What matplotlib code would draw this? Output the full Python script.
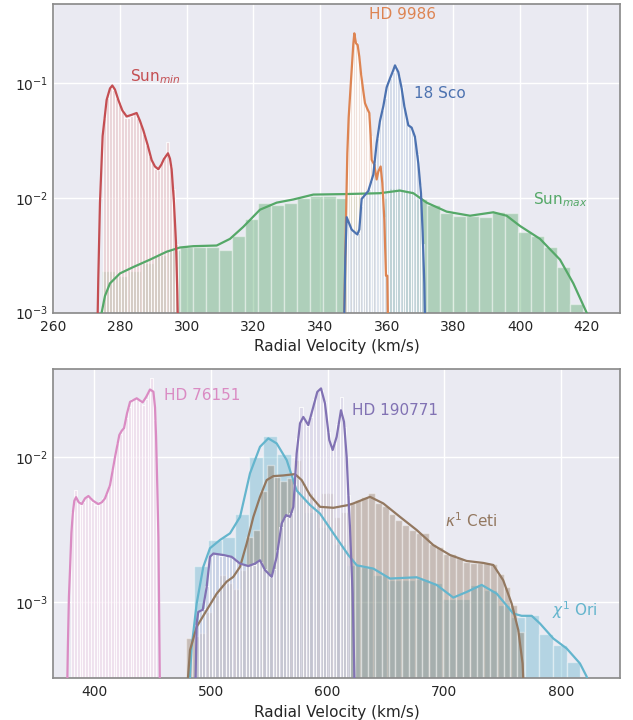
import numpy as np
import matplotlib
matplotlib.use("Agg")
import matplotlib.pyplot as plt
from matplotlib.colors import to_rgb

# seaborn "deep" palette
C_BLUE, C_ORANGE, C_GREEN, C_RED = "#4C72B0", "#DD8452", "#55A868", "#C44E52"
C_PURPLE, C_BROWN, C_PINK, C_CYAN = "#8172B3", "#937860", "#DA8BC3", "#64B5CD"

# ---------------- top panel ----------------
# Sun_max : histogram + kde
sun_max_start, sun_max_width = 274.5, 3.905
sun_max_hist = [0.0023, 0.0021, 0.0023, 0.0027, 0.0032, 0.0035, 0.0037, 0.0037, 0.0037, 0.0035,
                0.0047, 0.0065, 0.0091, 0.0087, 0.0091, 0.0100, 0.0105, 0.0105, 0.0100, 0.0105,
                0.0102, 0.0100, 0.0122, 0.0118, 0.0098, 0.0087, 0.0074, 0.0070, 0.0070, 0.0068,
                0.0075, 0.0074, 0.0051, 0.0047, 0.0037, 0.0025, 0.0012]
sun_max_kde_x = [272.5, 273.5, 274.5, 275.5, 277.0, 280.0, 284.0, 289.0, 294.0, 298.0, 302.0, 309.0,
                 313.0, 317.0, 322.0, 327.0, 332.0, 338.0, 347.0, 358.0, 364.0, 368.0, 372.0, 378.0,
                 385.0, 392.0, 396.0, 400.0, 406.0, 412.0, 416.0, 420.0, 422.0]
sun_max_kde_y = [0.0006, 0.00085, 0.0010, 0.0014, 0.0018, 0.0022, 0.0025, 0.0029, 0.0034, 0.0037,
                 0.0038, 0.00385, 0.0044, 0.0056, 0.0079, 0.0091, 0.0097, 0.0107, 0.0108, 0.0110,
                 0.0116, 0.0110, 0.0091, 0.0076, 0.0070, 0.0075, 0.0070, 0.0057, 0.0044, 0.0029,
                 0.0018, 0.0010, 0.0007]

# Sun_min
sun_min_start, sun_min_width = 275.0, 0.9
sun_min_hist = [0.050, 0.075, 0.090, 0.088, 0.075, 0.066, 0.058, 0.050, 0.050, 0.052,
                0.055, 0.050, 0.044, 0.036, 0.029, 0.023, 0.020, 0.018, 0.0175, 0.020,
                0.023, 0.031, 0.019, 0.012, 0.004]
sun_min_kde_x = [273.0, 273.5, 274.0, 274.8, 276.0, 277.0, 277.7, 278.5, 279.5, 280.7, 282.0,
                 283.5, 285.0, 286.0, 287.0, 288.3, 289.5, 290.5, 291.5, 292.4, 293.2, 294.4,
                 295.0, 295.5, 296.2, 296.8, 297.2, 297.6]
sun_min_kde_y = [0.0003, 0.002, 0.0091, 0.0347, 0.0716, 0.090, 0.0955, 0.088, 0.0716, 0.058,
                 0.0513, 0.053, 0.055, 0.047, 0.0389, 0.029, 0.0214, 0.0188, 0.0178, 0.0195,
                 0.0219, 0.0245, 0.022, 0.0178, 0.0091, 0.0041, 0.0015, 0.0004]

# HD 9986
hd9986_start, hd9986_width = 347.5, 0.5
hd9986_hist = [0.006, 0.025, 0.060, 0.100, 0.160, 0.260, 0.230, 0.210, 0.160, 0.120,
               0.090, 0.070, 0.062, 0.058, 0.052, 0.035, 0.022, 0.019, 0.016, 0.016,
               0.018, 0.018, 0.013, 0.0068, 0.0024, 0.0022]
hd9986_kde_x = [347.0, 347.3, 347.8, 348.2, 348.6, 349.0, 349.7, 350.0, 350.3, 350.6, 350.8,
                351.3, 351.8, 352.3, 353.0, 353.5, 354.3, 354.8, 355.2, 355.5, 356.3, 357.0,
                357.5, 358.2, 358.7, 359.3, 359.8, 360.2, 360.4, 360.6]
hd9986_kde_y = [0.0003, 0.001, 0.0065, 0.0245, 0.050, 0.0764, 0.160, 0.220, 0.272, 0.240, 0.223,
                0.215, 0.170, 0.122, 0.085, 0.067, 0.0589, 0.055, 0.035, 0.0215, 0.0195, 0.0145,
                0.017, 0.0188, 0.0135, 0.0065, 0.0021, 0.0021, 0.0008, 0.0003]

# 18 Sco
sco18_start, sco18_width = 348.0, 0.8
sco18_hist = [0.006, 0.0055, 0.005, 0.0048, 0.0049, 0.0085, 0.0105, 0.011, 0.012, 0.014,
              0.020, 0.033, 0.046, 0.058, 0.075, 0.100, 0.110, 0.125, 0.140, 0.115,
              0.092, 0.063, 0.048, 0.042, 0.040, 0.034, 0.024, 0.013, 0.004]
sco18_kde_x = [347.0, 347.6, 348.0, 349.5, 351.2, 351.8, 352.5, 354.5, 356.0, 357.0, 358.0,
               359.0, 360.0, 361.0, 362.0, 362.5, 363.5, 364.5, 365.3, 366.5, 367.5, 368.5,
               369.5, 370.3, 370.8, 371.3, 371.8]
sco18_kde_y = [0.0003, 0.003, 0.0068, 0.0053, 0.0048, 0.0053, 0.0098, 0.0115, 0.016, 0.030,
               0.047, 0.063, 0.092, 0.110, 0.130, 0.143, 0.125, 0.090, 0.063, 0.043, 0.041,
               0.034, 0.020, 0.011, 0.005, 0.0018, 0.0003]

# ---------------- bottom panel ----------------
# chi1 Ori
chi_start, chi_width = 485.4, 11.83
chi_hist = [0.00178, 0.00269, 0.00280, 0.00409, 0.01005, 0.01406, 0.0105, 0.00708, 0.00417, 0.00331,
            0.00251, 0.00181, 0.00176, 0.00154, 0.00142, 0.00142, 0.00146, 0.00135, 0.00106, 0.00106,
            0.00132, 0.00122, 0.00096, 0.00080, 0.00082, 0.00061, 0.00051, 0.00039]
chi_kde_x = [480.6, 483.4, 487.7, 493.4, 499.1, 507.7, 516.3, 524.9, 533.4, 542.0, 549.1, 556.3,
             564.9, 573.4, 584.9, 593.4, 604.9, 617.7, 625.0, 639.1, 653.4, 676.3, 693.4, 707.7,
             719.1, 732.0, 744.9, 759.1, 766.3, 774.9, 782.0, 793.4, 804.9, 816.3, 822.0, 826.0]
chi_kde_y = [0.0002, 0.000494, 0.000984, 0.00176, 0.00236, 0.00269, 0.00299, 0.00388, 0.00773,
             0.01178, 0.01346, 0.01242, 0.00953, 0.00589, 0.00468, 0.00409, 0.00299, 0.00212,
             0.00180, 0.00171, 0.00146, 0.00149, 0.00132, 0.00108, 0.00118, 0.00132, 0.00115,
             0.000839, 0.000809, 0.000809, 0.000716, 0.000565, 0.000482, 0.000380, 0.000309, 0.00024]

# kappa1 Ceti
kap_start, kap_width = 478.2, 5.8
kap_hist = [0.000565, 0.000589, 0.000612, 0.000861, 0.001122, 0.001542, 0.001352, 0.001247, 0.001667,
            0.002831, 0.003148, 0.005861, 0.00881, 0.00733, 0.00687, 0.00713, 0.00953, 0.00659,
            0.00562, 0.0048, 0.00562, 0.00562, 0.00388, 0.00421, 0.0048, 0.00506, 0.00533, 0.00568,
            0.00484, 0.0046, 0.00409, 0.00368, 0.0034, 0.00315, 0.00299, 0.00299, 0.00252, 0.00239,
            0.00217, 0.00215, 0.00201, 0.00191, 0.00187, 0.00187, 0.00187, 0.00184, 0.00158,
            0.00128, 0.00096, 0.00063]
kap_kde_x = [478.6, 482.0, 487.7, 496.3, 504.9, 513.4, 519.1, 524.9, 530.6, 536.3, 542.0, 547.7,
             553.4, 562.0, 572.0, 577.7, 584.9, 593.4, 604.9, 617.7, 622.0, 636.3, 647.7, 662.0,
             676.3, 690.6, 704.9, 719.1, 733.4, 742.0, 750.5, 757.7, 763.4, 767.1, 768.6]
kap_kde_y = [0.0002, 0.00047, 0.000679, 0.000885, 0.00115, 0.00139, 0.0015, 0.00176, 0.00255,
             0.00388, 0.00533, 0.00695, 0.0074, 0.00748, 0.00764, 0.00695, 0.00547, 0.00455,
             0.00448, 0.00468, 0.0048, 0.00533, 0.0048, 0.00388, 0.00315, 0.00248, 0.00212,
             0.00193, 0.00187, 0.00181, 0.00142, 0.000984, 0.000646, 0.00038, 0.0002]

# HD 190771
hd190771_start, hd190771_width = 486.5, 2.88
hd190771_hist = [0.0007, 0.00087, 0.0009, 0.0013, 0.0021, 0.0022, 0.00215, 0.0021, 0.0021, 0.0021,
                 0.0021, 0.0020, 0.0019, 0.0018, 0.0018, 0.0018, 0.0018, 0.0018, 0.0019, 0.0019,
                 0.0017, 0.0016, 0.0015, 0.0017, 0.0023, 0.0033, 0.0038, 0.0039, 0.0041, 0.0065,
                 0.0135, 0.022, 0.018, 0.0165, 0.019, 0.025, 0.0285, 0.029, 0.024, 0.015,
                 0.0115, 0.0125, 0.017, 0.026, 0.016, 0.0055]
hd190771_kde_x = [486.3, 487.7, 489.1, 492.9, 496.3, 499.1, 502.0, 510.6, 517.7, 524.9, 532.0,
                  537.7, 542.0, 546.3, 552.0, 556.3, 560.6, 564.3, 567.7, 570.6, 573.4, 576.3,
                  579.1, 583.4, 587.7, 591.1, 594.3, 597.7, 601.4, 604.3, 607.7, 611.4, 614.0,
                  616.3, 617.7, 619.1, 621.4, 623.4]
hd190771_kde_y = [0.0002, 0.00072, 0.00086, 0.00089, 0.00128, 0.00206, 0.00217, 0.00212, 0.00206,
                  0.00185, 0.00178, 0.00185, 0.00195, 0.00167, 0.0015, 0.00206, 0.0035, 0.00399,
                  0.00388, 0.00455, 0.0106, 0.0171, 0.0189, 0.0166, 0.0222, 0.0281, 0.0297,
                  0.0234, 0.0131, 0.0112, 0.0138, 0.021, 0.0175, 0.0100, 0.0056, 0.0033,
                  0.00115, 0.0002]

# HD 76151
hd76151_start, hd76151_width = 380.0, 2.43
hd76151_hist = [0.0042, 0.0059, 0.0050, 0.0047, 0.0049, 0.0053, 0.0053, 0.0049, 0.0047, 0.0047,
                0.0050, 0.0052, 0.0056, 0.0063, 0.0082, 0.0098, 0.0125, 0.0145, 0.0155, 0.0185,
                0.0220, 0.0250, 0.0250, 0.0250, 0.0240, 0.0230, 0.0250, 0.0280, 0.0350, 0.0180]
hd76151_kde_x = [376.5, 377.3, 378.2, 379.1, 380.3, 381.5, 382.8, 384.3, 386.5, 389.2, 392.0,
                 394.9, 399.0, 403.4, 406.5, 409.1, 413.4, 417.7, 421.4, 423.5, 425.4, 428.0,
                 430.6, 433.5, 436.3, 441.4, 444.5, 447.7, 450.6, 452.0, 452.9, 454.0, 454.9, 456.3]
hd76151_kde_y = [0.0002, 0.0005, 0.0011, 0.00166, 0.003, 0.0041, 0.005, 0.0053, 0.0049, 0.00475,
                 0.0052, 0.0054, 0.005, 0.00475, 0.0049, 0.0052, 0.0064, 0.010, 0.0142, 0.0152,
                 0.0158, 0.020, 0.024, 0.0247, 0.0254, 0.0238, 0.026, 0.0292, 0.0282, 0.022,
                 0.0138, 0.006, 0.0028, 0.0002]


def draw_dist(ax, start, width, heights, kde_x, kde_y, color, thin=False):
    # histogram bars with white edges, then the kde curve on top
    edges = start + width * np.arange(len(heights))
    if thin:
        # narrow bins: pale bars where the white edges dominate
        r, g, b = to_rgb(color)
        face = (0.68 + 0.32 * r, 0.68 + 0.32 * g, 0.68 + 0.32 * b, 0.6)
        ax.bar(edges, heights, width=width, align="edge", facecolor=face,
               edgecolor=(1, 1, 1, 0.8), linewidth=0.8, zorder=2)
    else:
        ax.bar(edges, heights, width=width, align="edge", color=color, alpha=0.4,
               edgecolor="white", linewidth=1.0, zorder=2)
    ax.plot(kde_x, kde_y, color=color, lw=1.6, zorder=3)


plt.style.use("seaborn-v0_8-darkgrid")
plt.rcParams["font.family"] = ["DejaVu Sans"]
plt.rcParams["axes.edgecolor"] = "#8c8c8c"
plt.rcParams["axes.linewidth"] = 1.25
plt.rcParams["xtick.labelsize"] = 10
plt.rcParams["ytick.labelsize"] = 10
plt.rcParams["xtick.color"] = "#262626"
plt.rcParams["ytick.color"] = "#262626"

fig = plt.figure(figsize=(6.33, 7.2), dpi=100)
ax1 = fig.add_axes([53.3 / 633, 1 - 312.7 / 720, 566.7 / 633, 308.7 / 720])
ax2 = fig.add_axes([53.3 / 633, 1 - 678 / 720, 566.7 / 633, 309 / 720])

for ax in (ax1, ax2):
    ax.set_yscale("log")

draw_dist(ax1, sun_max_start, sun_max_width, sun_max_hist, sun_max_kde_x, sun_max_kde_y, C_GREEN)
draw_dist(ax1, sun_min_start, sun_min_width, sun_min_hist, sun_min_kde_x, sun_min_kde_y, C_RED, thin=True)
draw_dist(ax1, hd9986_start, hd9986_width, hd9986_hist, hd9986_kde_x, hd9986_kde_y, C_ORANGE, thin=True)
draw_dist(ax1, sco18_start, sco18_width, sco18_hist, sco18_kde_x, sco18_kde_y, C_BLUE, thin=True)

ax1.text(283, 0.115, r"Sun$_{min}$", color=C_RED, fontsize=11, va="center")
ax1.text(354.8, 0.40, "HD 9986", color=C_ORANGE, fontsize=11, va="center")
ax1.text(368.3, 0.081, "18 Sco", color=C_BLUE, fontsize=11, va="center")
ax1.text(404, 0.0097, r"Sun$_{max}$", color=C_GREEN, fontsize=11, va="center")

ax1.set_xlim(260, 430)
ax1.set_ylim(1e-3, 0.49)
ax1.set_xlabel("Radial Velocity (km/s)", fontsize=11)

draw_dist(ax2, chi_start, chi_width, chi_hist, chi_kde_x, chi_kde_y, C_CYAN)
draw_dist(ax2, kap_start, kap_width, kap_hist, kap_kde_x, kap_kde_y, C_BROWN)
draw_dist(ax2, hd190771_start, hd190771_width, hd190771_hist, hd190771_kde_x, hd190771_kde_y,
          C_PURPLE, thin=True)
draw_dist(ax2, hd76151_start, hd76151_width, hd76151_hist, hd76151_kde_x, hd76151_kde_y,
          C_PINK, thin=True)

ax2.text(459.7, 0.0267, "HD 76151", color=C_PINK, fontsize=11, va="center")
ax2.text(620.6, 0.021, "HD 190771", color=C_PURPLE, fontsize=11, va="center")
ax2.text(700.6, 0.00365, r"$\kappa^1$ Ceti", color=C_BROWN, fontsize=11, va="center")
ax2.text(792, 0.000885, r"$\chi^1$ Ori", color=C_CYAN, fontsize=11, va="center")

ax2.set_xlim(364.8, 850.6)
ax2.set_ylim(3.02e-4, 0.0404)
ax2.set_xlabel("Radial Velocity (km/s)", fontsize=11)

for ax in (ax1, ax2):
    ax.grid(True, which="major", color="white", lw=1.0)
    ax.grid(False, which="minor")
    ax.tick_params(axis="x", pad=5)
    for s in ax.spines.values():
        s.set_visible(True)
        s.set_color("#8c8c8c")
        s.set_linewidth(1.25)

fig.savefig("out.png", dpi=100)
